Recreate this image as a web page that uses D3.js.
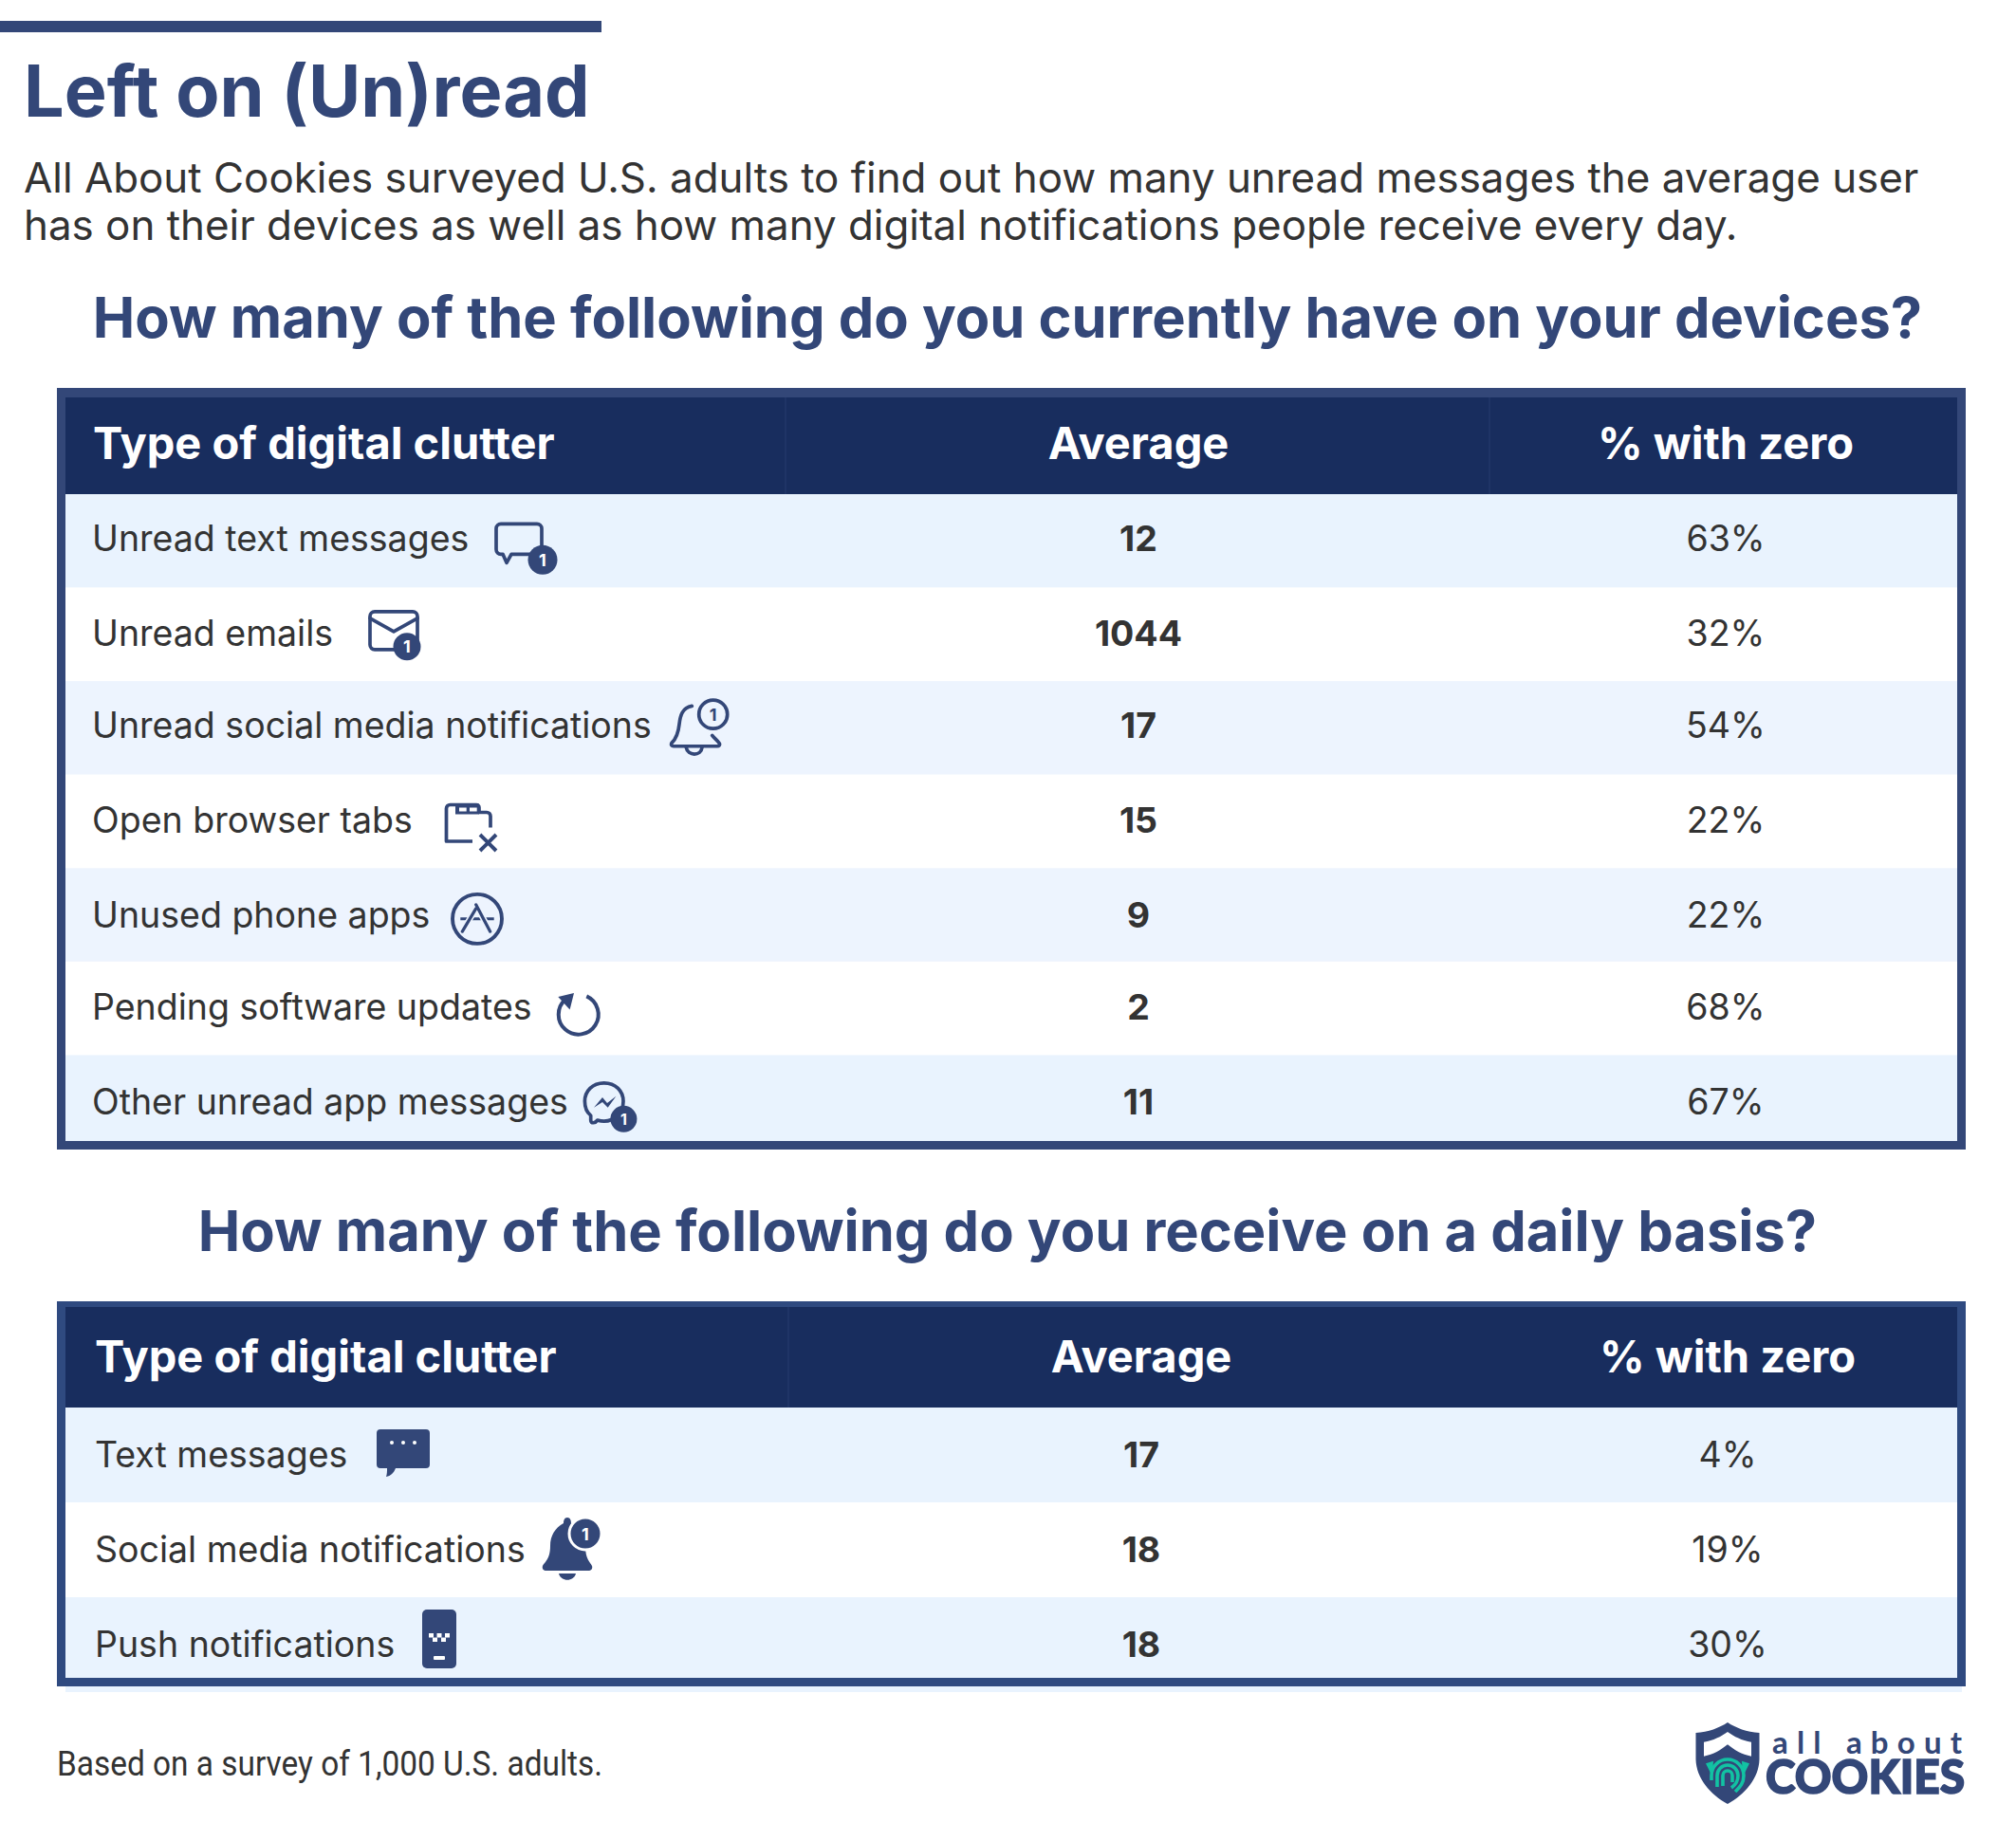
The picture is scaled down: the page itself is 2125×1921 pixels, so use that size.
<!DOCTYPE html>
<html>
<head>
<meta charset="utf-8">
<title>Left on (Un)read</title>
<script src="https://cdn.jsdelivr.net/npm/d3@7"></script>
<style>
  html, body { margin: 0; padding: 0; background: #fff; }
  svg { display: block; font-family: Inter, "Noto Sans", sans-serif; }
</style>
</head>
<body>
<svg id="chart" width="2125" height="1921"></svg>
<script>
// values
var columnLabels = ["Type of digital clutter", "Average", "% with zero"];

var deviceCategories = ["Unread text messages", "Unread emails", "Unread social media notifications",
  "Open browser tabs", "Unused phone apps", "Pending software updates", "Other unread app messages"];
var deviceAverages = [12, 1044, 17, 15, 9, 2, 11];
var deviceZeroShares = [63, 32, 54, 22, 22, 68, 67];
var deviceIcons = ["chat", "mail", "bell", "tabs", "appstore", "refresh", "messenger"];

var dailyCategories = ["Text messages", "Social media notifications", "Push notifications"];
var dailyAverages = [17, 18, 18];
var dailyZeroShares = [4, 19, 30];
var dailyIcons = ["chatFilled", "bellFilled", "phone"];

var titleText = "Left on (Un)read";
var introLines = ["All About Cookies surveyed U.S. adults to find out how many unread messages the average user",
  "has on their devices as well as how many digital notifications people receive every day."];
var deviceHeading = "How many of the following do you currently have on your devices?";
var dailyHeading = "How many of the following do you receive on a daily basis?";
var footnote = "Based on a survey of 1,000 U.S. adults.";

var NAVY = "#334778", DARK = "#182d5e", ROW = "#e9f3fe", ROW_ALT = "#edf4fe", INK = "#333333", TEAL = "#12c2a3";

var svg = d3.select("#chart");

svg.append("rect").attr("x", 0).attr("y", 22).attr("width", 634).attr("height", 12).attr("fill", NAVY);

svg.append("text").text(titleText)
  .attr("x", 25).attr("y", 123)
  .attr("font-size", 75.5).attr("font-weight", 700).attr("fill", NAVY);

svg.selectAll("text.intro").data(introLines).enter().append("text")
  .attr("class", "intro").text(function (d) { return d; })
  .attr("x", 25).attr("y", function (d, i) { return 203 + i * 50; })
  .attr("font-size", 43.9).attr("fill", INK);

function heading(text, y) {
  svg.append("text").text(text)
    .attr("x", 1062).attr("y", y).attr("text-anchor", "middle")
    .attr("font-size", 59.6).attr("font-weight", 700).attr("fill", NAVY);
}
heading(deviceHeading, 356);
heading(dailyHeading, 1319);

// icons are drawn around 0,0 and moved into their row
function stroked(g, d) {
  return g.append("path").attr("d", d).attr("fill", "none").attr("stroke", NAVY)
    .attr("stroke-width", 3.7).attr("stroke-linejoin", "round").attr("stroke-linecap", "round");
}
function filled(g, d) {
  return g.append("path").attr("d", d).attr("fill", NAVY);
}
function badge(g, x, y, r, size) {
  g.append("circle").attr("cx", x).attr("cy", y).attr("r", r).attr("fill", NAVY);
  g.append("text").text("1").attr("x", x).attr("y", y + size * 0.36).attr("text-anchor", "middle")
    .attr("font-size", size).attr("font-weight", 700).attr("fill", "#fff");
}

var iconDraw = {
  chat: function (g) {
    stroked(g, "M-19,-16H19a5,5 0 0 1 5,5V11a5,5 0 0 1 -5,5H-8L-13,25L-17,16H-19a5,5 0 0 1 -5,-5V-11a5,5 0 0 1 5,-5Z");
    badge(g, 25, 22, 15.5, 18);
  },
  mail: function (g) {
    stroked(g, "M-20,-20H20a5,5 0 0 1 5,5V15a5,5 0 0 1 -5,5H-20a5,5 0 0 1 -5,-5V-15a5,5 0 0 1 5,-5Z");
    stroked(g, "M-25,-13L0,1L25,-13");
    badge(g, 14, 17, 14.5, 18);
  },
  bell: function (g) {
    stroked(g, "M-3.7,-23C-14,-21 -16,-13 -17,-4C-18,6 -20,11 -25,16C-26,18 -25,19.3 -23,19.3H23C25,19.3 26,18 25.3,16.3C23,13 20,11 17.7,8");
    stroked(g, "M-9.7,20.7C-8,30 6,30 7,20.7");
    g.append("circle").attr("cx", 18.7).attr("cy", -14.3).attr("r", 15).attr("fill", "none")
      .attr("stroke", NAVY).attr("stroke-width", 3.7);
    g.append("text").text("1").attr("x", 18.7).attr("y", -7.8).attr("text-anchor", "middle")
      .attr("font-size", 18).attr("font-weight", 700).attr("fill", NAVY);
  },
  tabs: function (g) {
    stroked(g, "M4,18.5H-23.5V-16a4,4 0 0 1 4,-4H8a3,3 0 0 1 3,3V-12H19a4,4 0 0 1 4,4V4").attr("stroke-linecap", "butt");
    g.append("path").attr("fill", NAVY).attr("fill-rule", "evenodd")
      .attr("d", "M-14,-21H11V-10H-14ZM-10,-17V-13H-2.3V-17ZM1,-17V-13H8.7V-17Z");
    stroked(g, "M12,11.5L29,28.5M29,11.5L12,28.5").attr("stroke-linecap", "butt").attr("stroke-width", 3.9);
  },
  appstore: function (g) {
    g.append("circle").attr("r", 26).attr("fill", "none").attr("stroke", NAVY).attr("stroke-width", 3.9);
    stroked(g, "M-17.7,0H17.7").attr("stroke-width", 3).attr("stroke-linecap", "butt");
    g.append("path").attr("d", "M-15.7,13.3L-1.3,-11M-1.3,-15L13.7,13.3").attr("fill", "none")
      .attr("stroke", "#edf4fe").attr("stroke-width", 6.5);
    stroked(g, "M-15.7,13.3L-1.3,-11M-1.3,-15L13.7,13.3").attr("stroke-width", 3.2);
  },
  refresh: function (g) {
    stroked(g, "M9,-19.3A21,21 0 1 1 -13.3,-16").attr("stroke-width", 4).attr("stroke-linecap", "butt");
    filled(g, "M-21,-18.7L-4.3,-22.7L-8.7,-5.3Z");
  },
  messenger: function (g) {
    stroked(g, "M0,-20.3C12,-20.3 20.3,-12 20.3,-1C20.3,11 11,20 0,20C-3,20 -5,19.5 -7,19C-9,22 -14,23 -14,19V14C-18,11 -20.3,6 -20.3,-1C-20.3,-12 -12,-20.3 0,-20.3Z");
    filled(g, "M-10.7,5.7L-1.7,-5L3.3,1L12.7,-6.3L4,5.7L-1.7,0Z");
    badge(g, 20.7, 17.7, 14, 16);
  },
  chatFilled: function (g) {
    filled(g, "M-24,-20H24a4,4 0 0 1 4,4V17a4,4 0 0 1 -4,4H-8C-10,26 -13,29 -18,30C-17,27 -17,24 -17,21H-24a4,4 0 0 1 -4,-4V-16a4,4 0 0 1 4,-4Z");
    g.selectAll("circle.dot").data([-12, 0, 12]).enter().append("circle")
      .attr("cx", function (d) { return d; }).attr("cy", -6).attr("r", 2).attr("fill", "#fff");
  },
  bellFilled: function (g) {
    filled(g, "M0,-32C3,-32 4,-29 4,-26C14,-21 19,-13 19,-2C19,12 24,15 26,19C27,22 25,24 22,24H-22C-25,24 -27,22 -26,19C-24,15 -18,12 -18,-2C-18,-13 -13,-21 -4,-26C-4,-29 -3,-32 0,-32Z");
    filled(g, "M-9,27H9C7,36 -7,36 -9,27Z");
    g.append("circle").attr("cx", 19).attr("cy", -15).attr("r", 17).attr("fill", NAVY).attr("stroke", "#fff").attr("stroke-width", 3);
    g.append("text").text("1").attr("x", 19).attr("y", -8.5).attr("text-anchor", "middle")
      .attr("font-size", 18).attr("font-weight", 700).attr("fill", "#fff");
  },
  phone: function (g) {
    g.append("rect").attr("x", -18).attr("y", -31).attr("width", 36).attr("height", 62).attr("rx", 5).attr("fill", NAVY);
    g.append("rect").attr("x", -6).attr("y", 18).attr("width", 12).attr("height", 4).attr("rx", 1).attr("fill", "#fff");
    g.selectAll("rect.pix").data([[-11, -6], [-2.5, -6], [6, -6], [-7, -1.5], [2, -1.5]]).enter().append("rect")
      .attr("x", function (d) { return d[0]; }).attr("y", function (d) { return d[1]; })
      .attr("width", 5).attr("height", 4.5).attr("fill", "#fff");
  }
};

// one table: header band, striped rows, border on top
function drawTable(t) {
  var x = d3.scaleOrdinal().domain(columnLabels).range(t.columnCentres);
  var y = d3.scaleBand().domain(t.categories).range(t.rowRange);
  var g = svg.append("g");

  function baseline(i) {
    return y(t.categories[i]) + y.bandwidth() / 2 + t.baselineShift + t.textDy[i];
  }

  g.selectAll("rect.row").data(t.categories).enter().append("rect")
    .attr("class", "row")
    .attr("x", 69).attr("width", 1999)
    .attr("y", function (d) { return y(d); })
    .attr("height", y.bandwidth())
    .attr("fill", function (d, i) { return t.rowFills[i]; });

  g.append("rect").attr("x", 69).attr("y", t.top).attr("width", 1994).attr("height", t.rowRange[0] - t.top).attr("fill", DARK);
  g.selectAll("line.sep").data(t.separators).enter().append("line")
    .attr("x1", function (d) { return d; }).attr("x2", function (d) { return d; })
    .attr("y1", t.top).attr("y2", t.rowRange[0]).attr("stroke", "#22376a").attr("stroke-width", 1.5);

  g.selectAll("text.head").data(columnLabels).enter().append("text")
    .attr("class", "head").text(function (d) { return d; })
    .attr("x", function (d, i) { return i ? x(d) : t.headX; })
    .attr("y", t.headBaseline)
    .attr("text-anchor", function (d, i) { return i ? "middle" : "start"; })
    .attr("font-size", 47).attr("font-weight", 700).attr("fill", "#fff");

  g.selectAll("text.cat").data(t.categories).enter().append("text")
    .attr("class", "cat").text(function (d) { return d; })
    .attr("x", t.labelX).attr("y", function (d, i) { return baseline(i); })
    .attr("font-size", 37.5).attr("fill", INK);

  g.selectAll("text.avg").data(t.averages).enter().append("text")
    .attr("class", "avg").text(function (d) { return d; })
    .attr("x", x(columnLabels[1])).attr("text-anchor", "middle")
    .attr("y", function (d, i) { return baseline(i); })
    .attr("font-size", 37.5).attr("font-weight", 700).attr("fill", INK);

  g.selectAll("text.zero").data(t.zeroShares).enter().append("text")
    .attr("class", "zero").text(function (d) { return d + "%"; })
    .attr("x", x(columnLabels[2])).attr("text-anchor", "middle")
    .attr("y", function (d, i) { return baseline(i); })
    .attr("font-size", 37.5).attr("fill", INK);

  t.icons.forEach(function (name, i) {
    var c = y(t.categories[i]) + y.bandwidth() / 2;
    var ig = g.append("g").attr("transform", "translate(" + t.iconX[i] + "," + (c + t.iconDy[i]) + ")");
    iconDraw[name](ig);
  });

  // border drawn last so it sits over the rows
  var bw = t.border;
  g.append("path").attr("fill", t.borderColor).attr("fill-rule", "evenodd")
    .attr("d", "M60," + (t.top - bw.top) + "H2072V" + t.bottomOuter + "H60Z" +
      "M69," + t.top + "V" + (t.bottomOuter - bw.bottom) + "H2063V" + t.top + "Z");
}

drawTable({
  categories: deviceCategories, averages: deviceAverages, zeroShares: deviceZeroShares, icons: deviceIcons,
  rowFills: [ROW, "#ffffff", ROW_ALT, "#ffffff", ROW_ALT, "#ffffff", ROW],
  columnCentres: [400, 1200, 1819], separators: [828, 1570],
  top: 419, rowRange: [521, 1211], bottomOuter: 1212, border: { top: 10, bottom: 9 }, borderColor: NAVY,
  labelX: 97, headX: 98, headBaseline: 484, baselineShift: 11, textDy: [0, 1.5, 0, 1, 2.5, 1, 2.5],
  iconX: [547, 415, 733, 494, 503, 609.3, 636.7],
  iconDy: [-2, -4, 0, 2.5, 4.3, 6.6, 0.4]
});

drawTable({
  categories: dailyCategories, averages: dailyAverages, zeroShares: dailyZeroShares, icons: dailyIcons,
  rowFills: [ROW, "#ffffff", ROW],
  columnCentres: [400, 1203, 1821], separators: [831],
  top: 1378, rowRange: [1484, 1784], bottomOuter: 1778, border: { top: 6, bottom: 9 }, borderColor: "#2f4a80",
  labelX: 100, headX: 100, headBaseline: 1447, baselineShift: 13, textDy: [0, 0, 0],
  iconX: [425, 598, 463],
  iconDy: [-7, -2, -6]
});

svg.append("text").text(footnote)
  .attr("x", 60).attr("y", 1872)
  .attr("font-family", "Roboto").attr("font-size", 37).attr("fill", INK)
  .attr("textLength", 575).attr("lengthAdjust", "spacingAndGlyphs");

// logo
var logo = svg.append("g").attr("transform", "translate(1821,1859)");
filled(logo, "M0,-43C-9,-37 -20,-33 -33.5,-32V-4C-33,16 -18,33 0,43C18,33 33,16 33.5,-4V-32C20,-33 9,-37 0,-43Z");
logo.append("path").attr("fill", "#fff").attr("d", "M0,-33C-7,-28 -15,-24 -25,-22.3V-7.3C-15,-9 -7,-14 0,-19.7C7,-14 15,-9 25,-7.3V-22.3C15,-24 7,-28 0,-33Z");
logo.append("path").attr("fill", TEAL).attr("d", "M-23,0.3L-15,-2.3L-16,14.3ZM23,0.3L15,-2.3L16,14.3Z");
["M-17,18V13A17,17 0 0 1 17,13C17,22 12,26 8,30",
  "M-11,25V13A11,11 0 0 1 11,13C11,20 8,23 4,26",
  "M-5,24V13A5,5 0 0 1 5,13V20"].forEach(function (d) {
  logo.append("path").attr("d", d).attr("fill", "none").attr("stroke", TEAL).attr("stroke-width", 3.6);
});
svg.append("text").text("all about").attr("x", 1868).attr("y", 1849)
  .attr("font-family", "Lato").attr("font-size", 33).attr("font-weight", 700).attr("fill", NAVY)
  .attr("textLength", 200).attr("lengthAdjust", "spacing");
svg.append("text").text("COOKIES").attr("x", 1861).attr("y", 1891)
  .attr("font-family", "Lato").attr("font-size", 49).attr("font-weight", 900).attr("fill", NAVY)
  .attr("stroke", NAVY).attr("stroke-width", 1.6)
  .attr("textLength", 210).attr("lengthAdjust", "spacingAndGlyphs");
</script>
</body>
</html>
